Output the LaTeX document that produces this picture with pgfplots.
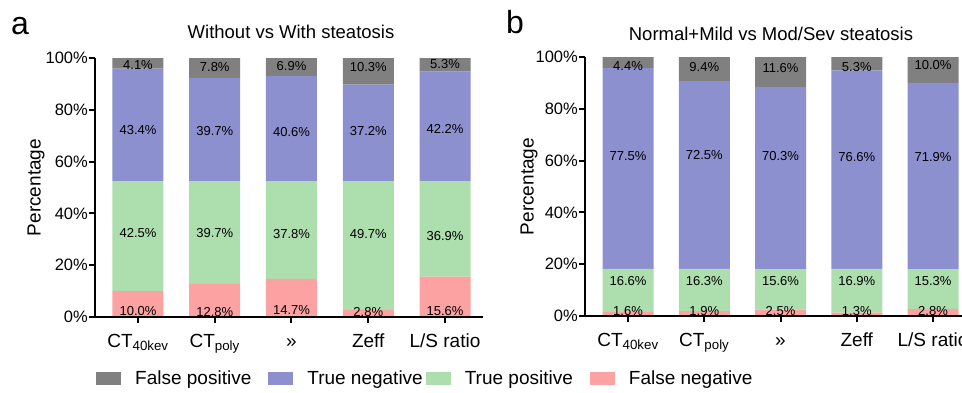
\documentclass[border=0pt]{standalone}
\usepackage{fontspec}
\setmainfont{Liberation Sans}
\usepackage{pgfplots}
\usepackage{pgfplotstable}
\pgfplotsset{compat=1.18}
\definecolor{cFP}{HTML}{808080}
\definecolor{cTN}{HTML}{8C90CE}
\definecolor{cTP}{HTML}{ADDEAE}
\definecolor{cFN}{HTML}{FCA2A2}

\pgfplotstableread{
x FN TP TN FP
0 10.0 42.5 43.4 4.1
1 12.8 39.7 39.7 7.8
2 14.7 37.8 40.6 6.9
3 2.8 49.7 37.2 10.3
4 15.6 36.9 42.2 5.3
}\dataA
\pgfplotstableread{
x FN TP TN FP
0 1.6 16.6 77.5 4.4
1 1.9 16.3 72.5 9.4
2 2.5 15.6 70.3 11.6
3 1.3 16.9 76.6 5.3
4 2.8 15.3 71.9 10.0
}\dataB
% label positions (percent axis) and label texts
\pgfplotstableread{
x y lab
0 2.4 10.0
1 2.0 12.8
2 2.7 14.7
3 2.0 2.8
4 2.4 15.6
0 32.3 42.5
1 32.3 39.7
2 31.9 37.8
3 31.9 49.7
4 31.4 36.9
0 72.2 43.4
1 71.9 39.7
2 71.5 40.6
3 71.9 37.2
4 72.6 42.2
0 97.3 4.1
1 96.7 7.8
2 97.0 6.9
3 96.7 10.3
4 97.6 5.3
}\labA
\pgfplotstableread{
x y lab
0 1.9 1.6
1 1.9 1.9
2 1.9 2.5
3 1.9 1.3
4 1.9 2.8
0 13.6 16.6
1 13.6 16.3
2 13.6 15.6
3 13.6 16.9
4 13.6 15.3
0 61.8 77.5
1 62.0 72.5
2 61.9 70.3
3 61.5 76.6
4 61.5 71.9
0 96.6 4.4
1 96.3 9.4
2 95.9 11.6
3 96.3 5.3
4 96.9 10.0
}\labB

\pgfplotsset{
  panel/.style={scale only axis, ymin=0, ymax=100, height=259pt, anchor=south west},
  bars/.style={panel, ybar stacked, bar width=51pt, hide axis},
  frame/.style={panel, axis x line=bottom, axis y line=left,
    axis line style={-, line width=2.3pt, black}, axis on top, clip=false,
    tick align=outside, major tick length=6pt, tick style={line width=2pt, black},
    xtick={0,...,4}, ytick={0,20,...,100},
    xticklabels={CT\textsubscript{40kev}, CT\textsubscript{poly}, », Zeff, L/S ratio},
    yticklabels={0\%,20\%,40\%,60\%,80\%,100\%},
    xticklabel style={font=\fontsize{19}{22}\selectfont, anchor=base, yshift=-24pt},
    yticklabel style={font=\fontsize{16.5}{19}\selectfont, inner xsep=1pt},
    ylabel=Percentage, ylabel style={font=\fontsize{19}{22}\selectfont, anchor=center}},
  labs/.style={only marks, mark=none, nodes near coords={\pgfplotspointmeta\%},
    point meta=explicit symbolic,
    every node near coord/.style={anchor=center, font=\fontsize{13}{15}\selectfont, black}},
}

\begin{document}
\begin{tikzpicture}
\useasboundingbox (0,0) rectangle (962pt,392pt);
% ---------- panel a ----------
\begin{axis}[bars, at={(95pt,75pt)}, width=388pt, xmin=-0.56, xmax=4.495,
  reverse legend, legend columns=4,
  legend image code/.code={\fill[#1] (0pt,-6.5pt) rectangle (25pt,6.5pt);},
  legend style={at={(axis description cs:0.0026,-0.2375)}, anchor=west, draw=none, fill=none,
    inner sep=0pt, font=\fontsize{19}{22}\selectfont,
    nodes={inner sep=0pt},
    /tikz/every odd column/.append style={column sep=14pt},
    /tikz/every even column/.append style={column sep=17pt}}]
\addplot[fill=cFN, draw=none] table[x=x, y=FN]{\dataA};
\addplot[fill=cTP, draw=none] table[x=x, y=TP]{\dataA};
\addplot[fill=cTN, draw=none] table[x=x, y=TN]{\dataA};
\addplot[fill=cFP, draw=none] table[x=x, y=FP]{\dataA};
\legend{False negative, True positive, True negative\hspace*{-14pt}, False positive}
\end{axis}
\begin{axis}[frame, at={(95pt,75pt)}, width=388pt, xmin=-0.56, xmax=4.495,
  ylabel style={at={(axis description cs:-0.152,0.5)}}]
\addplot[labs] table[x=x, y=y, meta=lab]{\labA};
\end{axis}
% ---------- panel b ----------
\begin{axis}[bars, at={(585pt,76pt)}, width=377pt, xmin=-0.564, xmax=4.38]
\addplot[fill=cFN, draw=none] table[x=x, y=FN]{\dataB};
\addplot[fill=cTP, draw=none] table[x=x, y=TP]{\dataB};
\addplot[fill=cTN, draw=none] table[x=x, y=TN]{\dataB};
\addplot[fill=cFP, draw=none] table[x=x, y=FP]{\dataB};
\end{axis}
\begin{axis}[frame, at={(585pt,76pt)}, width=377pt, xmin=-0.564, xmax=4.38,
  ylabel style={at={(axis description cs:-0.1485,0.5)}}]
\addplot[labs] table[x=x, y=y, meta=lab]{\labB};
\end{axis}
% ---------- titles and panel letters ----------
\node[anchor=base, font=\fontsize{18.5}{22}\selectfont, inner sep=0pt] at (291pt,353.7pt) {Without vs With steatosis};
\node[anchor=base, font=\fontsize{18.5}{22}\selectfont, inner sep=0pt] at (771pt,351.3pt) {Normal+Mild vs Mod/Sev steatosis};
\node[anchor=base west, font=\fontsize{32}{36}\selectfont, inner sep=0pt] at (11pt,357pt) {a};
\node[anchor=base west, font=\fontsize{32}{36}\selectfont, inner sep=0pt] at (506pt,358.7pt) {b};
\end{tikzpicture}
\end{document}
